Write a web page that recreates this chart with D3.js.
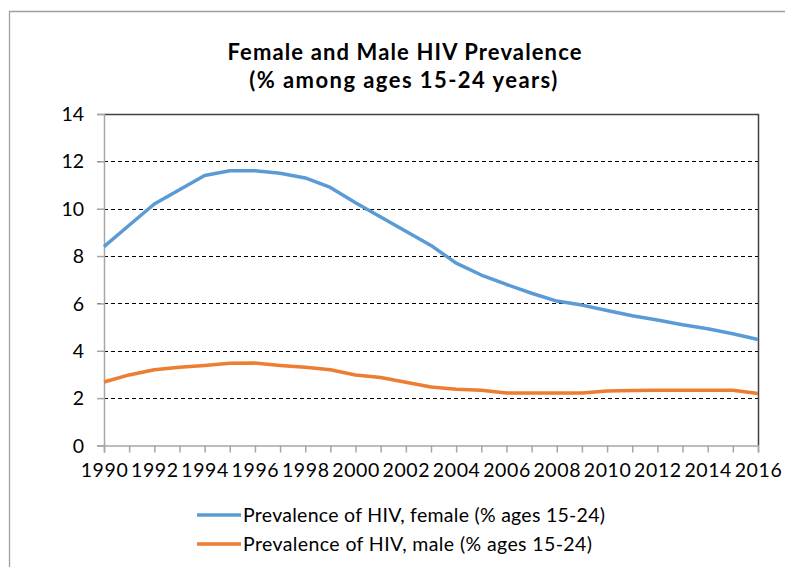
<!DOCTYPE html>
<html>
<head>
<meta charset="utf-8">
<script src="https://cdn.jsdelivr.net/npm/d3@7"></script>
<style>
  html, body { margin: 0; padding: 0; background: #fff; }
  svg { display: block; }
  text { font-family: Lato, "Open Sans", sans-serif; fill: #000; }
</style>
</head>
<body>
<svg id="chart" width="785" height="567"></svg>
<script>
const years = [1990,1991,1992,1993,1994,1995,1996,1997,1998,1999,2000,2001,2002,2003,2004,2005,2006,2007,2008,2009,2010,2011,2012,2013,2014,2015,2016];
const female = [8.4,9.3,10.2,10.8,11.4,11.6,11.6,11.5,11.3,10.9,10.25,9.65,9.05,8.45,7.7,7.2,6.8,6.43,6.1,5.93,5.7,5.48,5.3,5.1,4.93,4.72,4.48];
const male = [2.68,2.98,3.2,3.3,3.38,3.47,3.48,3.38,3.3,3.2,2.98,2.87,2.67,2.47,2.38,2.33,2.22,2.22,2.22,2.22,2.3,2.32,2.33,2.33,2.33,2.33,2.2];
const yTicks = [0,2,4,6,8,10,12,14];
const xLabelYears = [1990,1992,1994,1996,1998,2000,2002,2004,2006,2008,2010,2012,2014,2016];
const titleLines = ["Female and Male HIV Prevalence", "(% among ages 15-24 years)"];
const seriesNames = ["Prevalence of HIV, female (% ages 15-24)", "Prevalence of HIV, male (% ages 15-24)"];
const colors = ["#5B9BD5", "#ED7D31"];

const svg = d3.select("#chart");

// outer chart border
svg.append("path")
  .attr("d", "M9.5,567 L9.5,11.5 L785,11.5")
  .attr("fill", "none").attr("stroke", "#a0a0a0").attr("stroke-width", 1.3);

const L = 104, R = 758, T = 114, B = 445.5;
const x = d3.scaleLinear().domain([1990, 2016]).range([L, R]);
const y = d3.scaleLinear().domain([0, 14]).range([B, T]);

// widen text to a target width via letter spacing
function spreadText(sel, target) {
  const w = sel.node().getComputedTextLength();
  const n = sel.text().length;
  sel.attr("letter-spacing", ((target - w) / (n - 1)).toFixed(3));
}
const t1 = svg.append("text").attr("x", 405).attr("y", 60).attr("text-anchor", "middle")
  .attr("font-weight", "bold").attr("font-size", 22).text(titleLines[0]);
spreadText(t1, 354);
const t2 = svg.append("text").attr("x", 404).attr("y", 88).attr("text-anchor", "middle")
  .attr("font-weight", "bold").attr("font-size", 22).text(titleLines[1]);
spreadText(t2, 308);

// gridlines
svg.append("g").selectAll("line").data(yTicks.filter(d => d > 0 && d < 14)).join("line")
  .attr("x1", L - 7).attr("x2", R)
  .attr("y1", d => Math.round(y(d)) + 0.5).attr("y2", d => Math.round(y(d)) + 0.5)
  .attr("stroke", "#000").attr("stroke-width", 1).attr("stroke-dasharray", "4,3");

// plot area border (top/right dark)
svg.append("path")
  .attr("d", `M${L},${T + 0.5} L${R + 0.5},${T + 0.5} L${R + 0.5},${B}`)
  .attr("fill", "none").attr("stroke", "#404040").attr("stroke-width", 1.5);

// y axis
const yAxis = d3.axisLeft(y).tickValues(yTicks).tickSize(7).tickPadding(13).tickFormat(d3.format("d"));
const gy = svg.append("g").attr("transform", `translate(${L},0)`).call(yAxis);
gy.select(".domain").attr("stroke", "#a6a6a6").attr("stroke-width", 1.5);
gy.selectAll(".tick line").attr("stroke", "#a6a6a6").attr("stroke-width", 1.5);
gy.selectAll(".tick text").attr("font-size", 19.5).attr("font-family", "Lato, sans-serif").attr("fill", "#000").attr("dy", "0.34em");

// x axis
const xAxis = d3.axisBottom(x).tickValues(years).tickSize(7).tickPadding(11)
  .tickFormat(d => xLabelYears.includes(d) ? String(d) : "");
const gx = svg.append("g").attr("transform", `translate(0,${B})`).call(xAxis);
gx.select(".domain").attr("stroke", "#a6a6a6").attr("stroke-width", 1.5);
gx.selectAll(".tick line").attr("stroke", "#a6a6a6").attr("stroke-width", 1.5);
gx.selectAll(".tick text").attr("font-size", 19.5).attr("font-family", "Lato, sans-serif").attr("fill", "#000").attr("letter-spacing", 0.6);

// lines
const line = d3.line().x((d, i) => x(years[i])).y(d => y(d));
[female, male].forEach((s, i) => {
  svg.append("path").datum(s).attr("d", line)
    .attr("fill", "none").attr("stroke", colors[i]).attr("stroke-width", 3.5)
    .attr("stroke-linejoin", "round").attr("stroke-linecap", "butt");
});

// legend
const legendY = [515, 544];
const legendTargets = [362, 349];
seriesNames.forEach((name, i) => {
  svg.append("line").attr("x1", 197).attr("x2", 241).attr("y1", legendY[i]).attr("y2", legendY[i])
    .attr("stroke", colors[i]).attr("stroke-width", 3.5);
  const t = svg.append("text").attr("x", 243).attr("y", legendY[i]).attr("dy", "0.35em")
    .attr("font-size", 19.5).text(name);
  spreadText(t, legendTargets[i]);
});
</script>
</body>
</html>
